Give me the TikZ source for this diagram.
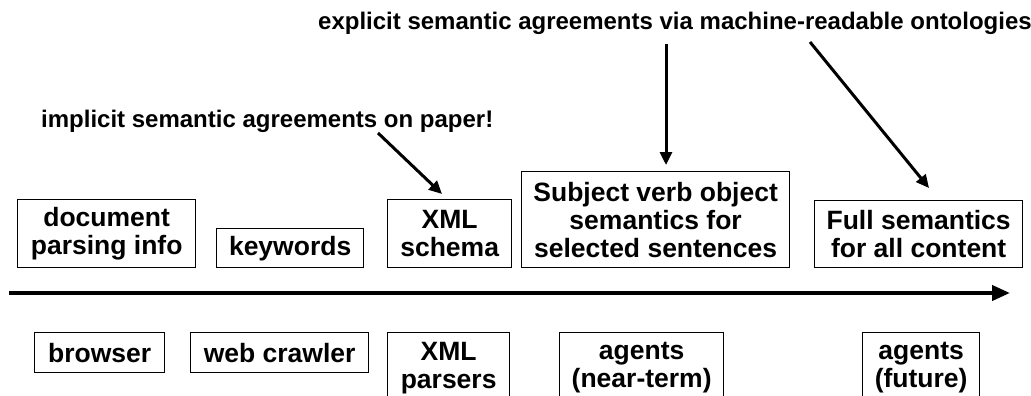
\documentclass[tikz,border=0pt]{standalone}
\usepackage{fontspec}
\setmainfont{Liberation Sans}
\usetikzlibrary{arrows.meta,positioning}

\begin{document}
\begin{tikzpicture}[x=1pt,y=-1pt,
    box/.style={draw, line width=1.3pt, rectangle, anchor=north west, inner sep=0pt, align=center,
        font=\fontsize{26.5}{28}\selectfont\bfseries},
    note/.style={anchor=base west, inner sep=0pt, font=\fontsize{24}{26}\selectfont\bfseries},
    pointer/.style={-{Triangle[length=13pt,width=12pt]}, line width=3pt}]
    \useasboundingbox (0,0) rectangle (1031,396);
    \clip (0,0) rectangle (1031,396);
    % upper row: what is described
    \foreach \x/\y/\w/\h/\name/\txt in {17/199/178/68/doc/{document\\parsing info},
        216/228/147/39/kw/{keywords}, 387/199/124/68/schema/{XML\\schema},
        521/171/268/96/svo/{Subject verb object\\semantics for\\selected sentences},
        814/200/208/67/full/{Full semantics\\for all content}}{
        \node[box, minimum width=\w, minimum height=\h] (\name) at (\x,\y) {\txt};
    }
    % lower row: who uses it
    \foreach \x/\y/\w/\h/\name/\txt in {34/332/130/40/browser/{browser},
        190/332/178/40/crawler/{web crawler}, 387/332/122/70/parsers/{XML\\parsers},
        559/332/164/70/nearterm/{agents\\(near-term)}, 862/332/117/70/future/{agents\\(future)}}{
        \node[box, minimum width=\w, minimum height=\h] (\name) at (\x,\y) {\txt};
    }
    % time axis
    \coordinate (tstart) at (9,293);
    \coordinate (tend) at (1010,293);
    \draw[line width=4pt, -{Triangle[length=18pt,width=15pt]}] (tstart) -- (tend);
    % agreements
    \node[note] (impl) at (41,127) {implicit semantic agreements on paper!};
    \node[note] (expl) at (318,29.5) {explicit semantic agreements via machine-readable ontologies};
    \coordinate (implfoot) at (378,133);
    \coordinate (schematop) at (442,194);
    \coordinate (explfoot1) at (666,44);
    \coordinate (svotop) at (666,165);
    \coordinate (explfoot2) at (810,42);
    \coordinate (fulltop) at (929,188);
    \draw[pointer] (implfoot) -- (schematop);
    \draw[pointer] (explfoot1) -- (svotop);
    \draw[pointer] (explfoot2) -- (fulltop);
\end{tikzpicture}
\end{document}
